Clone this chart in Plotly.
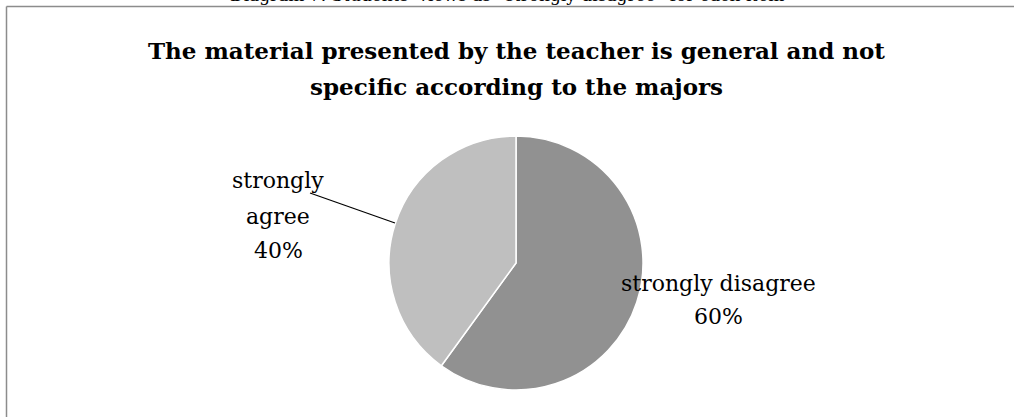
import plotly.graph_objects as go

labels = ["strongly disagree", "strongly agree"]
values = [60, 40]
colors = ["#919191", "#BFBFBF"]
title_lines = ["The material presented by the teacher is general and not",
               "specific according to the majors"]
caption_text = "Diagram 7. Students' views as \u201cstrongly disagree\u201d for each item"

W, H = 1014, 417
total = sum(values)
pct = [f"{round(v / total * 100)}%" for v in values]


def py(y):
    return (H - y) / H


def px(x):
    return x / W


fig = go.Figure(go.Pie(
    labels=labels, values=values, sort=False, direction="clockwise", rotation=0,
    marker=dict(colors=colors, line=dict(color="white", width=1.5)),
    textinfo="none", hoverinfo="label+percent", showlegend=False,
    domain=dict(x=[px(389), px(643)], y=[py(390), py(136)]),
))

ff = "DejaVu Serif"
annotations = [
    dict(text=caption_text, x=px(507), y=py(7), yanchor="bottom", font=dict(size=17)),
]
for i, (line, base) in enumerate(zip(title_lines, [57, 93])):
    annotations.append(dict(text="<b>" + line + "</b>", x=px(516), y=py(base - 7), yanchor="middle",
                            font=dict(size=23)))
# label for strongly disagree
annotations.append(dict(text=labels[0], x=px(718), y=py(290 - 7), yanchor="middle", font=dict(size=22)))
annotations.append(dict(text=pct[0], x=px(718), y=py(323 - 7), yanchor="middle", font=dict(size=22)))
# label for strongly agree (wrapped)
agree_words = labels[1].split(" ")
for word, base in zip(agree_words + [pct[1]], [187, 223, 257]):
    annotations.append(dict(text=word, x=px(278), y=py(base - 7), yanchor="middle", font=dict(size=22)))

for a in annotations:
    a.update(xref="paper", yref="paper", xanchor="center", showarrow=False)
    a["font"]["family"] = ff
    a["font"]["color"] = "black"

fig.update_layout(
    width=W, height=H, margin=dict(l=0, r=0, t=0, b=0),
    paper_bgcolor="white", plot_bgcolor="white",
    font=dict(family=ff, color="black"),
    shapes=[
        dict(type="line", xref="paper", yref="paper", x0=px(6.5), x1=1.02, y0=py(6.5), y1=py(6.5),
             line=dict(color="#8C8C8C", width=1.5)),
        dict(type="line", xref="paper", yref="paper", x0=px(6.5), x1=px(6.5), y0=-0.02, y1=py(6.5),
             line=dict(color="#8C8C8C", width=1.5)),
        dict(type="line", xref="paper", yref="paper", x0=px(310), x1=px(395), y0=py(193), y1=py(223),
             line=dict(color="black", width=1.2)),
    ],
    annotations=annotations,
)

fig.write_html("out.html", config={"displayModeBar": False},
               post_script="document.body.style.margin='0';document.body.style.overflow='hidden';")
